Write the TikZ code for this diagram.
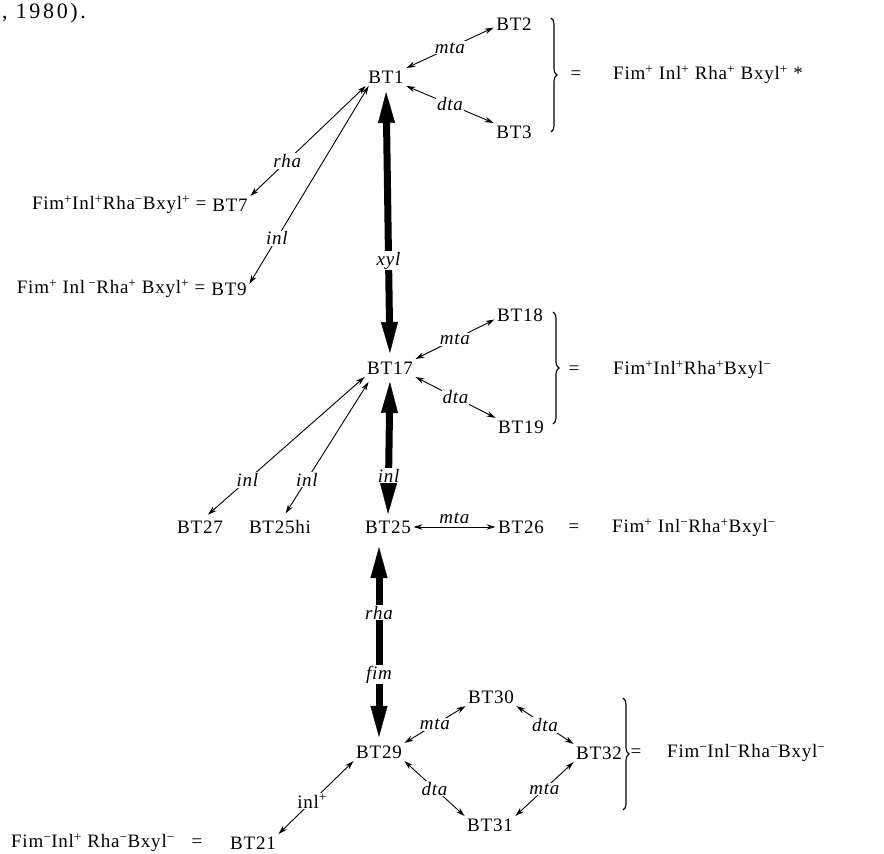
\documentclass[tikz,border=0pt]{standalone}
\usepackage{fontspec}
\setmainfont{Liberation Serif}[LetterSpace=4]
\usepackage{tikz}
\usetikzlibrary{arrows.meta,positioning,decorations.pathreplacing}
\newcommand\btfont{\fontsize{19}{22}\selectfont}
\newcommand\gplus{\textsuperscript{+}}
\newcommand\gminus{\textsuperscript{−}}

\begin{document}
\begin{tikzpicture}[
  x=1pt, y=-1pt,
  bt/.style={font=\btfont, inner sep=2.5pt},
  frm/.style={font=\btfont, inner sep=0pt},
  lbl/.style={font=\btfont\itshape, fill=white, inner sep=1pt},
  rlbl/.style={font=\btfont, fill=white, inner sep=1pt},
  dbl/.style={{Stealth[length=9pt,width=5.5pt]}-{Stealth[length=9pt,width=5.5pt]}, line width=0.9pt},
  big/.style={{Triangle[length=31pt,width=17pt,line width=0.4pt]}-{Triangle[length=31pt,width=17pt,line width=0.4pt]}, line width=7pt},
  brc/.style={decorate, decoration={brace, amplitude=6pt, aspect=0.5}, line width=1.1pt},
]
  \useasboundingbox (0,0) rectangle (884,854);
  \node[anchor=west, font=\fontsize{22}{24}\selectfont\addfontfeatures{LetterSpace=12}, inner sep=0pt] (year) at (2,13) {, 1980).};
  % --- top group ---
  \node[bt] (BT1) at (386,77) {BT1};
  \node[bt] (BT2) at (514,24) {BT2};
  \node[bt] (BT3) at (514,132) {BT3};
  \node[frm] (eqA) at (576,75) {=};
  \node[frm, anchor=west] (fA) at (613,75) {Fim\gplus{} Inl\gplus{} Rha\gplus{} Bxyl\gplus{} *};
  \node[bt] (BT7) at (230,205) {BT7};
  \node[frm, left=3pt of BT7] (fB) {Fim\gplus Inl\gplus Rha\gminus Bxyl\gplus{} =};
  \node[bt] (BT9) at (229,289) {BT9};
  \node[frm, left=3pt of BT9] (fC) {Fim\gplus{} Inl\,\gminus Rha\gplus{} Bxyl\gplus{} =};
  % --- second group ---
  \node[bt] (BT17) at (390,368) {BT17};
  \node[bt] (BT18) at (520,315) {BT18};
  \node[bt] (BT19) at (521,427) {BT19};
  \node[frm] (eqD) at (574,370) {=};
  \node[frm, anchor=west] (fD) at (613,370) {Fim\gplus Inl\gplus Rha\gplus Bxyl\gminus};
  % --- third row ---
  \node[bt] (BT27) at (200,527) {BT27};
  \node[bt] (BT25hi) at (280,527) {BT25hi};
  \node[bt] (BT25) at (388,527) {BT25};
  \node[bt] (BT26) at (521,527) {BT26};
  \node[frm] (eqE) at (574,528) {=};
  \node[frm, anchor=west] (fE) at (612,528) {Fim\gplus{} Inl\gminus Rha\gplus Bxyl\gminus};
  % --- bottom group ---
  \node[bt] (BT29) at (379,752) {BT29};
  \node[bt] (BT30) at (491,697) {BT30};
  \node[bt] (BT31) at (490,825) {BT31};
  \node[bt] (BT32) at (599,753) {BT32};
  \node[frm] (eqF) at (636,753) {=};
  \node[frm, anchor=west] (fF) at (667,753) {Fim\gminus Inl\gminus Rha\gminus Bxyl\gminus};
  \node[bt] (BT21) at (253,843) {BT21};
  \node[frm] (eqG) at (197,843) {=};
  \node[frm, anchor=east] (fG) at (175,843) {Fim\gminus Inl\gplus{} Rha\gminus Bxyl\gminus};
  % --- braces ---
  \draw[brc] (551,18) -- (551,132);
  \draw[brc] (553,312) -- (553,424);
  \draw[brc] (623,698) -- (623,810);
  % --- thick arrows ---
  \draw[big, shorten <=6pt, shorten >=6pt] (BT1.south) -- node[lbl, pos=0.64] {xyl} (BT17.north);
  \draw[big, shorten <=5pt, shorten >=4pt] (BT17.south) -- node[lbl, pos=0.7] {inl} (BT25.north);
  \draw[big, shorten <=11pt, shorten >=6pt] (BT29.north |- BT25.south) -- node[lbl, pos=0.37] {rha} node[lbl, pos=0.67] {fim} (BT29.north);
  % --- thin arrows ---
  \draw[dbl] (BT1.north east) -- node[lbl] {mta} (BT2.190);
  \draw[dbl] (BT1.south east) -- node[lbl] {dta} (BT3.north west);
  \draw[dbl] (BT1.south west) -- node[lbl, pos=0.68] {rha} (BT7.north east);
  \draw[dbl] ([xshift=3pt]BT1.south west) -- node[lbl, pos=0.77] {inl} ([yshift=-4pt]BT9.north east);
  \draw[dbl] (BT17.north east) -- node[lbl] {mta} (BT18.190);
  \draw[dbl] (BT17.south east) -- node[lbl] {dta} (BT19.north west);
  \draw[dbl, shorten >=5pt] (BT17.south west) -- node[lbl, pos=0.73] {inl} (BT27.65);
  \draw[dbl, shorten >=5pt] ([xshift=4pt,yshift=-5pt]BT17.south west) -- node[lbl, pos=0.72] {inl} ([xshift=3pt]BT25hi.north);
  \draw[dbl] (BT25.east) -- node[lbl, above=2pt] {mta} (BT26.west);
  \draw[dbl] (BT29.north east) -- node[lbl] {mta} (BT30.south west);
  \draw[dbl] (BT30.south east) -- node[lbl] {dta} (BT32.north west);
  \draw[dbl] (BT29.south east) -- node[lbl] {dta} (BT31.north west);
  \draw[dbl] (BT31.north east) -- node[lbl] {mta} (BT32.south west);
  \draw[dbl] (BT29.south west) -- node[rlbl, pos=0.55] {inl\gplus} (BT21.north east);
\end{tikzpicture}
\end{document}
